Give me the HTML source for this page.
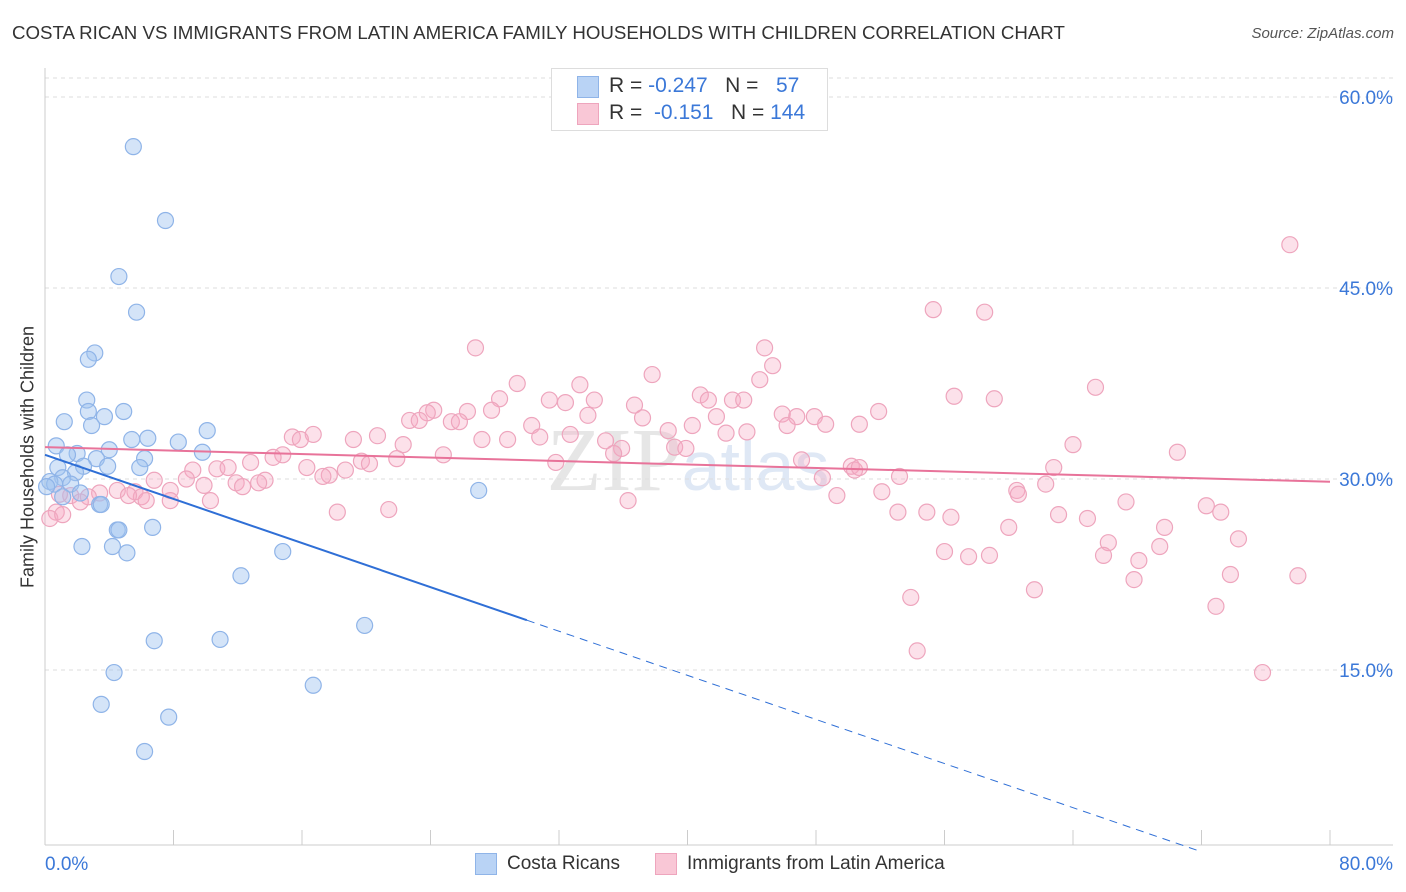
<!DOCTYPE html>
<html><head><meta charset="utf-8">
<style>
body{margin:0;background:#fff;font-family:"Liberation Sans",sans-serif;}
#wrap{position:relative;width:1406px;height:892px;overflow:hidden;}
.t{position:absolute;white-space:nowrap;}
</style></head>
<body>
<div id="wrap">
<div class="t" style="left:12px;top:22px;font-size:18.7px;color:#333;">COSTA RICAN VS IMMIGRANTS FROM LATIN AMERICA FAMILY HOUSEHOLDS WITH CHILDREN CORRELATION CHART</div>
<div class="t" style="right:12px;top:25px;font-size:15px;color:#555;font-style:italic;">Source: ZipAtlas.com</div>
<div class="t" style="left:28px;top:457px;font-size:18px;color:#333;transform:translate(-50%,-50%) rotate(-90deg);">Family Households with Children</div>
<svg id="svg" width="1406" height="892" style="position:absolute;left:0;top:0"></svg>
<div style="position:absolute;left:551px;top:68px;width:275px;height:61px;border:1px solid #ddd;background:#fff;"></div>
<div style="position:absolute;left:577px;top:76px;width:20px;height:20px;background:#b9d3f5;border:1px solid #8fb4e8;"></div>
<div style="position:absolute;left:577px;top:103px;width:20px;height:20px;background:#f9c7d6;border:1px solid #eea5bd;"></div>
<div class="t" style="left:609px;top:74px;font-size:21px;color:#333;">R = <span style="color:#3b78d8">-0.247</span>&nbsp;&nbsp; N = &nbsp;&nbsp;<span style="color:#3b78d8">57</span></div>
<div class="t" style="left:609px;top:101px;font-size:21px;color:#333;">R = &nbsp;<span style="color:#3b78d8">-0.151</span>&nbsp;&nbsp; N = <span style="color:#3b78d8">144</span></div>
<div style="position:absolute;left:475px;top:853px;width:20px;height:20px;background:#b9d3f5;border:1px solid #8fb4e8;"></div>
<div class="t" style="left:507px;top:853px;font-size:19px;color:#333;">Costa Ricans</div>
<div style="position:absolute;left:655px;top:853px;width:20px;height:20px;background:#f9c7d6;border:1px solid #eea5bd;"></div>
<div class="t" style="left:687px;top:853px;font-size:19px;color:#333;">Immigrants from Latin America</div>
</div>
<script>
const yTicks=[60,45,30,15];
const yTickLabels=["60.0%","45.0%","30.0%","15.0%"];
const xTicks=[0,8,16,24,32,40,48,56,64,72,80];
const blueX=[5.5,7.5,4.6,5.7,3.1,2.7,2.6,4.9,2.7,3.7,1.2,2.9,10.1,6.4,5.4,8.3,0.7,4.0,9.8,2.0,1.4,3.2,6.2,2.4,3.9,5.9,0.8,1.9,1.1,0.3,0.6,1.6,0.1,2.2,1.1,27.0,3.4,3.5,4.5,4.6,6.7,2.3,4.2,5.1,14.8,12.2,6.8,10.9,19.9,4.3,16.7,3.5,7.7,6.2];
const blueY=[56.1,50.3,45.9,43.1,39.9,39.4,36.2,35.3,35.3,34.9,34.5,34.2,33.8,33.2,33.1,32.9,32.6,32.3,32.1,32.0,31.9,31.6,31.6,31.0,31.0,30.9,30.9,30.5,30.1,29.8,29.6,29.6,29.4,28.9,28.6,29.1,28.0,28.0,26.0,26.0,26.2,24.7,24.7,24.2,24.3,22.4,17.3,17.4,18.5,14.8,13.8,12.3,11.3,8.6];
const pinkX=[77.5,55.3,58.5,26.8,44.8,45.3,37.8,44.5,29.4,33.3,65.4,40.8,28.3,56.6,59.1,31.4,32.4,34.2,42.8,43.5,41.3,36.7,27.8,24.2,26.3,23.8,51.9,41.8,37.2,45.9,46.8,47.9,33.8,22.7,23.3,25.3,25.8,30.3,48.6,50.7,46.2,38.8,43.7,40.3,42.4,32.7,30.8,15.4,16.7,15.9,19.2,20.7,27.2,28.8,22.3,34.9,35.9,64.0,39.2,39.9,70.5,14.8,14.2,24.8,21.9,35.4,12.8,31.8,19.7,20.2,47.1,50.2,62.8,16.3,10.7,11.4,9.2,18.7,50.4,50.7,17.7,17.3,53.2,8.8,6.8,48.4,62.3,9.9,11.9,13.7,13.3,12.3,60.5,60.6,52.1,7.8,4.5,5.6,3.4,6.0,1.6,2.7,0.9,5.2,49.3,10.3,7.8,6.3,2.2,36.3,67.3,0.7,0.3,1.1,18.2,21.4,53.1,54.9,63.1,72.3,73.2,56.4,64.9,60.0,69.7,74.3,66.2,69.4,56.0,57.5,58.8,65.9,68.1,67.8,73.8,78.0,61.6,53.9,72.9,54.3,75.8];
const pinkY=[48.4,43.3,43.1,40.3,40.3,38.9,38.2,37.8,37.5,37.4,37.2,36.6,36.3,36.5,36.3,36.2,36.0,36.2,36.2,36.2,36.2,35.8,35.4,35.4,35.3,35.2,35.3,34.9,34.8,35.1,34.9,34.9,35.0,34.6,34.6,34.5,34.5,34.2,34.3,34.3,34.2,33.8,33.7,34.2,33.6,33.5,33.3,33.3,33.5,33.1,33.1,33.4,33.1,33.1,32.7,33.0,32.4,32.7,32.5,32.4,32.1,31.9,31.7,31.9,31.6,32.0,31.3,31.3,31.4,31.2,31.5,31.0,30.9,30.9,30.8,30.9,30.7,30.7,30.7,30.9,30.3,30.2,30.2,30.0,29.9,30.1,29.6,29.5,29.7,29.9,29.7,29.4,29.1,28.8,29.0,29.1,29.1,29.0,28.9,28.6,28.7,28.6,28.8,28.7,28.7,28.3,28.3,28.3,28.2,28.3,28.2,27.4,26.9,27.2,27.4,27.6,27.4,27.4,27.2,27.9,27.4,27.0,26.9,26.2,26.2,25.3,25.0,24.7,24.3,23.9,24.0,24.0,23.6,22.1,22.5,22.4,21.3,20.7,20.0,16.5,14.8];
const blueTrend=[31.9,-0.433];
const pinkTrend=[32.5,-0.034];
const sx=v=>45+v/80*1285;
const sy=v=>861-v/15*191;
const svg=document.getElementById('svg');
const NS='http://www.w3.org/2000/svg';
function mk(tag,attrs,parent){const e=document.createElementNS(NS,tag);for(const k in attrs)e.setAttribute(k,attrs[k]);(parent||svg).appendChild(e);return e;}
const wm=mk('text',{x:688,y:490,'font-size':90,'text-anchor':'middle','font-family':'Liberation Serif,serif',fill:'#e6e6e6'});


wm.innerHTML='ZIP<tspan fill="#dfe8f5" font-family="Liberation Sans,sans-serif" font-size="70">atlas</tspan>';
const topGrid=mk('line',{x1:45,x2:1393,y1:78,y2:78,stroke:'#ddd','stroke-dasharray':'4,4'});


yTicks.forEach((t,i)=>{
 const g=mk('line',{x1:45,x2:1393,y1:sy(t),y2:sy(t),stroke:'#ddd','stroke-dasharray':'4,4'});
 
 
 const l=mk('text',{x:1393,y:sy(t)+7,'text-anchor':'end','font-size':19,fill:'#3b78d8','font-family':'Liberation Sans,sans-serif'});
 l.textContent=yTickLabels[i];
 
 
});
const ax=mk('line',{x1:45,x2:45,y1:68,y2:845,stroke:'#ccc'});


const bx=mk('line',{x1:45,x2:1393,y1:845,y2:845,stroke:'#ccc'});


xTicks.forEach(t=>{
 const k=mk('line',{x1:sx(t),x2:sx(t),y1:830,y2:845,stroke:'#ccc'});
 
 
});
[[0,"0.0%",'start',45],[80,"80.0%",'end',1393]].forEach(a=>{
 const l=mk('text',{x:a[3],y:870,'text-anchor':a[2],'font-size':19,fill:'#3b78d8','font-family':'Liberation Sans,sans-serif'});
 l.textContent=a[1];
 
 
});
pinkX.forEach((x,i)=>{
 const c=mk('circle',{cx:sx(x),cy:sy(pinkY[i]),r:8,fill:'rgba(245,170,195,0.35)',stroke:'#eea5bd','stroke-width':1.2});
 
 
});
blueX.forEach((x,i)=>{
 const c=mk('circle',{cx:sx(x),cy:sy(blueY[i]),r:8,fill:'rgba(160,195,240,0.45)',stroke:'#8fb4e8','stroke-width':1.2});
 
 
});
const bt=v=>blueTrend[0]+blueTrend[1]*v;
const b1=mk('line',{x1:sx(0),y1:sy(bt(0)),x2:sx(30),y2:sy(bt(30)),stroke:'#2f6fd6','stroke-width':2});


const b2=mk('line',{x1:sx(30),y1:sy(bt(30)),x2:sx(71.9),y2:sy(bt(71.9)),stroke:'#2f6fd6','stroke-width':1,'stroke-dasharray':'8,6'});


const pt=v=>pinkTrend[0]+pinkTrend[1]*v;
const p1=mk('line',{x1:sx(0),y1:sy(pt(0)),x2:sx(80),y2:sy(pt(80)),stroke:'#e8739a','stroke-width':2});


</script>
</body></html>
